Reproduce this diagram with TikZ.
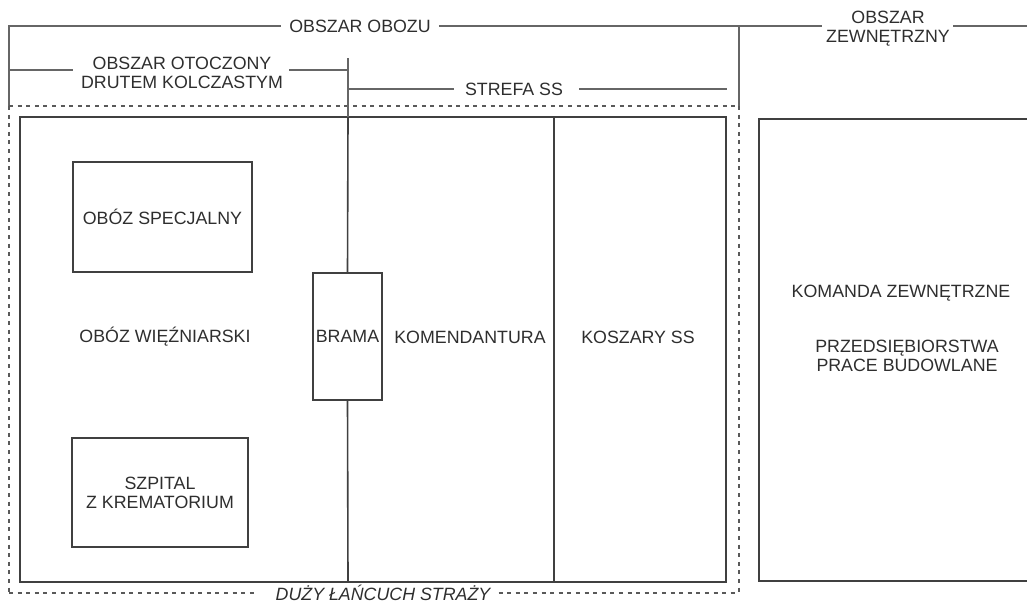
\documentclass[tikz,border=0pt]{standalone}
\usepackage{fontspec}
\setmainfont{Liberation Sans}
\begin{document}
\begin{tikzpicture}[x=1pt,y=-1pt,
  every node/.style={font=\fontsize{17.8}{20}\selectfont, text=black!82, align=center},
  lbl/.style={inner sep=0pt},
  thin line/.style={draw=black!60, line width=1.1pt},
  boxline/.style={draw=black!75, line width=2pt},
  guard/.style={draw=black!65, line width=1.6pt, dash pattern=on 4pt off 4.6pt}]
\useasboundingbox (0,0) rectangle (1027,603);
% coordinates
\coordinate (tl) at (9,26);
\coordinate (tr) at (739,26);
\coordinate (dtl) at (9,106);
\coordinate (dtr) at (739,106);
\coordinate (dbl) at (9,593);
\coordinate (dbr) at (739,593);
\coordinate (gtop) at (348,58);
\coordinate (gin) at (348,117);
\coordinate (wl) at (9,70);
\coordinate (wr) at (348,70);
\coordinate (sl) at (348,89);
\coordinate (sr) at (727,89);
\coordinate (zr) at (1030,26);
\coordinate (v2t) at (554,117);
\coordinate (v2b) at (554,582);
\coordinate (gbot) at (348,582);
% labels on lines
\node[lbl] (oo) at (360,26) {OBSZAR OBOZU};
\node[lbl, align=center] (oz) at (888,29) {OBSZAR\\[-1pt]ZEWNĘTRZNY};
\node[lbl] (ow) at (182,73) {OBSZAR OTOCZONY\\[-1pt]DRUTEM KOLCZASTYM};
\node[lbl] (ss) at (514,89) {STREFA SS};
\node[lbl, font=\fontsize{17.8}{20}\selectfont\itshape] (dl) at (383,593) {DUŻY ŁAŃCUCH STRAŻY};
% upper bracket lines
\draw[thin line] (dtl) -- (tl) -- ([xshift=-8pt]oo.west);
\draw[thin line] ([xshift=8pt]oo.east) -- (tr) -- (dtr);
\draw[thin line] (tr) -- ([xshift=-4pt]oz.west |- tr);
\draw[thin line] ([xshift=3pt]oz.east |- tr) -- (zr);
\draw[thin line] (wl) -- ([xshift=-8pt]ow.west |- wl);
\draw[thin line] ([xshift=6pt]ow.east |- wl) -- (wr);
\draw[thin line] (sl) -- ([xshift=-11pt]ss.west);
\draw[thin line] ([xshift=16pt]ss.east) -- (sr);
% guard chain (dotted)
\draw[guard] (dtl) -- (dtr);
\draw[guard] (dtl) -- (dbl);
\draw[guard] (dtr) -- (dbr);
\draw[guard] (dbl) -- ([xshift=-19pt]dl.west |- dbl);
\draw[guard] ([xshift=8pt]dl.east |- dbr) -- (dbr);
% main box
\node[boxline, minimum width=706pt, minimum height=465pt, inner sep=0pt] (main) at (373,349.5) {};
\node[boxline, minimum width=290pt, minimum height=462pt, inner sep=0pt, anchor=north west] (ext) at (758,118) {};
% inner boxes
\node[boxline, minimum width=179pt, minimum height=110pt, inner sep=0pt] (spec) at (162.5,217) {OBÓZ SPECJALNY};
\node[boxline, minimum width=176pt, minimum height=109pt, inner sep=0pt] (szp) at (160,492.5) {SZPITAL\\[-1pt]Z KREMATORIUM};
\node[boxline, minimum width=69pt, minimum height=127pt, inner sep=0pt, line width=1.6pt] (brama) at (347.5,336.5) {BRAMA};
% gate line
\draw[thin line] (gtop) -- (gin);
\draw[boxline, line width=1.6pt] (gin) -- (brama.north);
\draw[boxline, line width=1.6pt] (brama.south) -- (gbot);
\draw[boxline, line width=1.6pt] (v2t) -- (v2b);
% texts
\node (wiez) at (165,337) {OBÓZ WIĘŹNIARSKI};
\node (kom) at (470,337) {KOMENDANTURA};
\node (kos) at (638,337) {KOSZARY SS};
\node (kz) at (901,293) {KOMANDA ZEWNĘTRZNE};
\node (prz) at (907,356) {PRZEDSIĘBIORSTWA\\[-1pt]PRACE BUDOWLANE};
\end{tikzpicture}
\end{document}
